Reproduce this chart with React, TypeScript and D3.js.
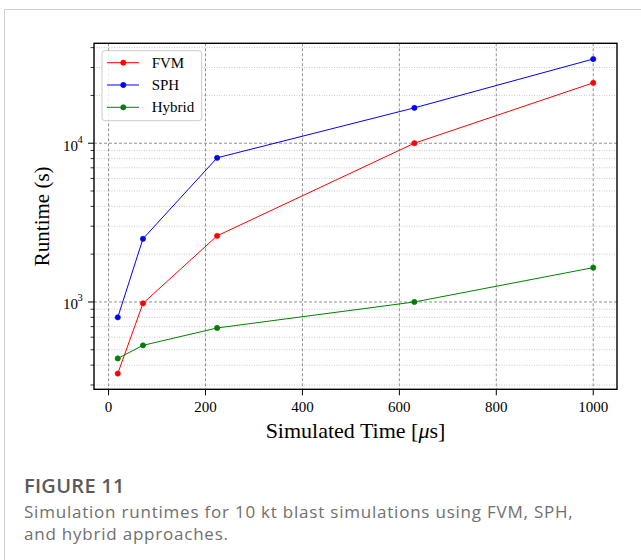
import React from "react";
import * as d3 from "d3";

const simTimes = [19, 71, 224, 631, 1000];
const fvmRuntime = [354, 980, 2610, 10000, 24000];
const sphRuntime = [800, 2500, 8090, 16700, 33900];
const hybridRuntime = [441, 533, 686, 1000, 1645];
const seriesNames = ["FVM", "SPH", "Hybrid"];
const seriesColors = ["#ff0000", "#0000ff", "#008000"];
const xTicks = [0, 200, 400, 600, 800, 1000];
const yMajorTicks = [1000, 10000];
const yMinorTicks = [300, 400, 500, 600, 700, 800, 900, 2000, 3000, 4000, 5000, 6000, 7000, 8000, 9000, 20000, 30000, 40000];
const captionTitle = "FIGURE 11";
const captionLines = [
  "Simulation runtimes for 10 kt blast simulations using FVM, SPH,",
  "and hybrid approaches.",
];

const W = 641;
const H = 560;
const plot = { left: 94, right: 617, top: 43.3, bottom: 389.3 };
const serif = "'Liberation Serif', 'Times New Roman', serif";
const sans = "'Open Sans', 'Noto Sans', sans-serif";

export default function App() {
  const allSeries = [fvmRuntime, sphRuntime, hybridRuntime];
  const xMin = d3.min(simTimes)!;
  const xMax = d3.max(simTimes)!;
  const xPad = (xMax - xMin) * 0.05;
  const x = d3.scaleLinear().domain([xMin - xPad, xMax + xPad]).range([plot.left, plot.right]);

  const allY = allSeries.flat();
  const lyMin = Math.log10(d3.min(allY)!);
  const lyMax = Math.log10(d3.max(allY)!);
  const lPad = (lyMax - lyMin) * 0.05;
  const y = d3
    .scaleLog()
    .domain([Math.pow(10, lyMin - lPad), Math.pow(10, lyMax + lPad)])
    .range([plot.bottom, plot.top]);

  const line = d3
    .line<[number, number]>()
    .x((d) => x(d[0]))
    .y((d) => y(d[1]));
  const marker = d3.symbol().type(d3.symbolCircle).size(22)()!;

  return (
    <svg
      width={W}
      height={H}
      style={{ position: "absolute", left: 0, top: 0, background: "#fff" }}
      xmlns="http://www.w3.org/2000/svg"
    >
      <rect x={0} y={0} width={W} height={H} fill="#fff" />
      {/* card border */}
      <line x1={4.5} y1={9.5} x2={W} y2={9.5} stroke="#cfcfcf" strokeWidth={1} />
      <line x1={4.5} y1={9.5} x2={4.5} y2={H} stroke="#cfcfcf" strokeWidth={1} />

      <defs>
        <clipPath id="plotclip">
          <rect x={plot.left} y={plot.top} width={plot.right - plot.left} height={plot.bottom - plot.top} />
        </clipPath>
      </defs>

      {/* minor grid */}
      {yMinorTicks.map((t) => (
        <line
          key={"mg" + t}
          x1={plot.left}
          x2={plot.right}
          y1={y(t)}
          y2={y(t)}
          stroke="#bdbdbd"
          strokeWidth={0.8}
          strokeDasharray="1,1.5"
        />
      ))}
      {/* major grid */}
      {yMajorTicks.map((t) => (
        <line
          key={"Mg" + t}
          x1={plot.left}
          x2={plot.right}
          y1={y(t)}
          y2={y(t)}
          stroke="#909090"
          strokeWidth={1}
          strokeDasharray="3,2"
        />
      ))}
      {xTicks.map((t) => (
        <line
          key={"xg" + t}
          x1={x(t)}
          x2={x(t)}
          y1={plot.top}
          y2={plot.bottom}
          stroke="#909090"
          strokeWidth={1}
          strokeDasharray="3,2"
        />
      ))}

      {/* series */}
      <g clipPath="url(#plotclip)">
        {allSeries.map((s, i) => {
          const pts = simTimes.map((t, j) => [t, s[j]] as [number, number]);
          return (
            <g key={seriesNames[i]}>
              <path d={line(pts)!} fill="none" stroke={seriesColors[i]} strokeWidth={1} />
              {pts.map((p, j) => (
                <path
                  key={j}
                  d={marker}
                  transform={`translate(${x(p[0])},${y(p[1])})`}
                  fill={seriesColors[i]}
                  stroke={seriesColors[i]}
                  strokeWidth={0.6}
                />
              ))}
            </g>
          );
        })}
      </g>

      {/* frame */}
      <rect
        x={plot.left}
        y={plot.top}
        width={plot.right - plot.left}
        height={plot.bottom - plot.top}
        fill="none"
        stroke="#000"
        strokeWidth={1.4}
      />

      {/* x ticks */}
      {xTicks.map((t) => (
        <g key={"xt" + t}>
          <line x1={x(t)} x2={x(t)} y1={plot.bottom} y2={plot.bottom + 6} stroke="#000" strokeWidth={1} />
          <text x={x(t)} y={411.5} textAnchor="middle" fontFamily={serif} fontSize={15} fill="#000">
            {t}
          </text>
        </g>
      ))}

      {/* y ticks */}
      {yMinorTicks.map((t) => (
        <line key={"ymt" + t} x1={plot.left - 3.5} x2={plot.left} y1={y(t)} y2={y(t)} stroke="#000" strokeWidth={0.8} />
      ))}
      {yMajorTicks.map((t) => (
        <g key={"yMt" + t}>
          <line x1={plot.left - 6} x2={plot.left} y1={y(t)} y2={y(t)} stroke="#000" strokeWidth={1} />
          <text x={plot.left - 16} y={y(t) + 7.5} textAnchor="end" fontFamily={serif} fontSize={15} fill="#000">
            10
          </text>
          <text x={plot.left - 16.5} y={y(t) - 0.5} textAnchor="start" fontFamily={serif} fontSize={10.5} fill="#000">
            {Math.round(Math.log10(t))}
          </text>
        </g>
      ))}

      {/* axis labels */}
      <text
        x={(plot.left + plot.right) / 2}
        y={437.5}
        textAnchor="middle"
        fontFamily={serif}
        fontSize={22}
        fill="#000"
      >
        Simulated Time [<tspan fontStyle="italic">μ</tspan>s]
      </text>
      <text
        transform={`translate(49,${(plot.top + plot.bottom) / 2}) rotate(-90)`}
        textAnchor="middle"
        fontFamily={serif}
        fontSize={21}
        fill="#000"
      >
        Runtime (s)
      </text>

      {/* legend */}
      <rect x={102} y={50.7} width={99.7} height={70} rx={3} ry={3} fill="#fff" fillOpacity={0.85} stroke="#cccccc" strokeWidth={1} />
      {seriesNames.map((n, i) => {
        const ly = 62.7 + i * 22.3;
        return (
          <g key={"lg" + n}>
            <line x1={107} x2={139} y1={ly} y2={ly} stroke={seriesColors[i]} strokeWidth={1} />
            <path d={marker} transform={`translate(123.3,${ly})`} fill={seriesColors[i]} stroke={seriesColors[i]} strokeWidth={0.6} />
            <text x={151.7} y={ly + 5} fontFamily={serif} fontSize={15} fill="#000">
              {n}
            </text>
          </g>
        );
      })}

      {/* caption */}
      <text x={24} y={492.5} fontFamily={sans} fontSize={20} letterSpacing={0.3} fontWeight={600} fill="#5a5a5a">
        {captionTitle}
      </text>
      {captionLines.map((l, i) => (
        <text
          key={"cap" + i}
          x={24}
          y={517.5 + i * 22.5}
          fontFamily={sans}
          fontSize={17}
          letterSpacing={0.78}
          fill="#707070"
        >
          {l}
        </text>
      ))}
    </svg>
  );
}
